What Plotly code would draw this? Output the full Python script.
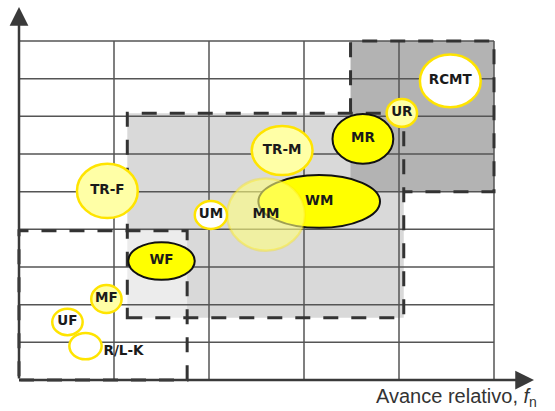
import plotly.graph_objects as go

# Bubbles: label, centre (x, y), half-width, half-height, style
names = ["RCMT", "UR", "MR", "TR-M", "TR-F", "WM", "MM", "UM", "WF", "MF", "UF", "R/L-K"]
cx = [4.54, 4.03, 3.62, 2.77, 0.93, 3.16, 2.60, 2.02, 1.50, 0.92, 0.51, 0.70]
cy = [7.94, 7.09, 6.40, 6.09, 5.02, 4.74, 4.39, 4.38, 3.16, 2.15, 1.54, 0.90]
rx = [0.32, 0.16, 0.32, 0.32, 0.32, 0.64, 0.41, 0.17, 0.35, 0.16, 0.16, 0.17]
ry = [0.70, 0.37, 0.66, 0.65, 0.72, 0.70, 0.96, 0.37, 0.50, 0.37, 0.35, 0.35]
kind = ["white", "pale", "yellow", "pale", "pale", "yellow", "faded",
        "white", "yellow", "pale", "white", "white"]
label_x = [4.54, 4.03, 3.62, 2.77, 0.93, 3.16, 2.60, 2.02, 1.50, 0.92, 0.51, 1.10]
label_y = [7.94, 7.09, 6.40, 6.09, 5.02, 4.74, 4.39, 4.38, 3.16, 2.15, 1.54, 0.74]

# Zones: x0, x1, y0, y1
dark_zone = [3.49, 5.0, 5.0, 9.0]
mid_zone = [1.14, 4.05, 1.65, 7.08]
low_zone = [0.0, 1.77, 0.0, 3.96]

grid_x = [0, 1, 2, 3, 4, 5]
grid_y = [0, 1, 2, 3, 4, 5, 6, 7, 8, 9]

styles = {
    "yellow": dict(fillcolor="#ffff00", line=dict(color="#111111", width=2)),
    "pale": dict(fillcolor="#ffffa6", line=dict(color="#ffe400", width=2.5)),
    "white": dict(fillcolor="#ffffff", line=dict(color="#ffe400", width=2.5)),
    "faded": dict(fillcolor="rgba(255,255,125,0.6)", line=dict(color="rgba(255,228,0,0.35)", width=2.5)),
}

DASH = dict(color="#333333", width=3, dash="15px,13px")

# pixel scale: one grid column = 95 px, one grid row = 37.67 px, origin at (19, 380)
UX, UY = 95, 37.67
X_RANGE = [-10 / UX, (545 - 19) / UX]
Y_RANGE = [-10 / UY, 380 / UY]
X_TIP = (534 - 19) / UX
Y_TIP = (380 - 7) / UY

shapes = []

def rect(z, **kw):
    return dict(type="rect", x0=z[0], x1=z[1], y0=z[2], y1=z[3],
                xref="x", yref="y", layer="below", **kw)

# fills
shapes.append(rect(mid_zone, fillcolor="#d9d9d9", line=dict(width=0)))
shapes.append(rect(dark_zone, fillcolor="#b3b3b3", line=dict(width=0)))
shapes.append(rect(low_zone, fillcolor="rgba(255,255,255,0.5)", line=dict(width=0)))

# grid
for gx in grid_x[1:]:
    shapes.append(dict(type="line", x0=gx, x1=gx, y0=0, y1=grid_y[-1], xref="x", yref="y",
                       layer="below", line=dict(color="#555555", width=1.5)))
for gy in grid_y[1:]:
    shapes.append(dict(type="line", x0=0, x1=grid_x[-1], y0=gy, y1=gy, xref="x", yref="y",
                       layer="below", line=dict(color="#555555", width=1.5)))

# dashed zone borders
shapes.append(rect(mid_zone, fillcolor="rgba(0,0,0,0)", line=DASH))
shapes.append(rect(low_zone, fillcolor="rgba(0,0,0,0)", line=DASH))
d = dark_zone
shapes.append(dict(type="path", xref="x", yref="y", layer="below", line=DASH,
                   path=f"M {d[0]},{mid_zone[3]} L {d[0]},{d[3]} L {d[1]},{d[3]} "
                        f"L {d[1]},{d[2]} L {mid_zone[1]},{d[2]}"))

# bubbles
for i in range(len(names)):
    shapes.append(dict(type="circle", xref="x", yref="y", layer="below",
                       x0=cx[i] - rx[i], x1=cx[i] + rx[i],
                       y0=cy[i] - ry[i], y1=cy[i] + ry[i], **styles[kind[i]]))

fig = go.Figure()
fig.add_trace(go.Scatter(
    x=label_x, y=label_y, mode="text",
    text=[f"<b>{n}</b>" for n in names],
    textfont=dict(family="DejaVu Sans", size=13.5, color="#1a1a1a"),
    hoverinfo="skip", showlegend=False,
))

fig.update_layout(
    width=555, height=411,
    margin=dict(l=9, r=10, t=0, b=21),
    plot_bgcolor="white", paper_bgcolor="white",
    xaxis=dict(range=X_RANGE, visible=False, fixedrange=True),
    yaxis=dict(range=Y_RANGE, visible=False, fixedrange=True),
    shapes=shapes,
    showlegend=False,
)

# axis arrows
for tx, ty in [(0, Y_TIP), (X_TIP, 0)]:
    fig.add_annotation(x=tx, y=ty, ax=0, ay=0, xref="x", yref="y", axref="x", ayref="y",
                       text="", showarrow=True, arrowhead=2, arrowsize=1.5, arrowwidth=2.5,
                       arrowcolor="#3a3a3a")

fig.add_annotation(x=0.989, y=-0.018, xref="paper", yref="paper", xanchor="right", yanchor="middle",
                   text="Avance relativo, <i>f</i><sub>n</sub>", showarrow=False,
                   font=dict(family="Liberation Sans", size=20, color="#333333"))

fig.write_html("out.html", post_script="document.body.style.margin='0px';",
               config={"displayModeBar": False})
